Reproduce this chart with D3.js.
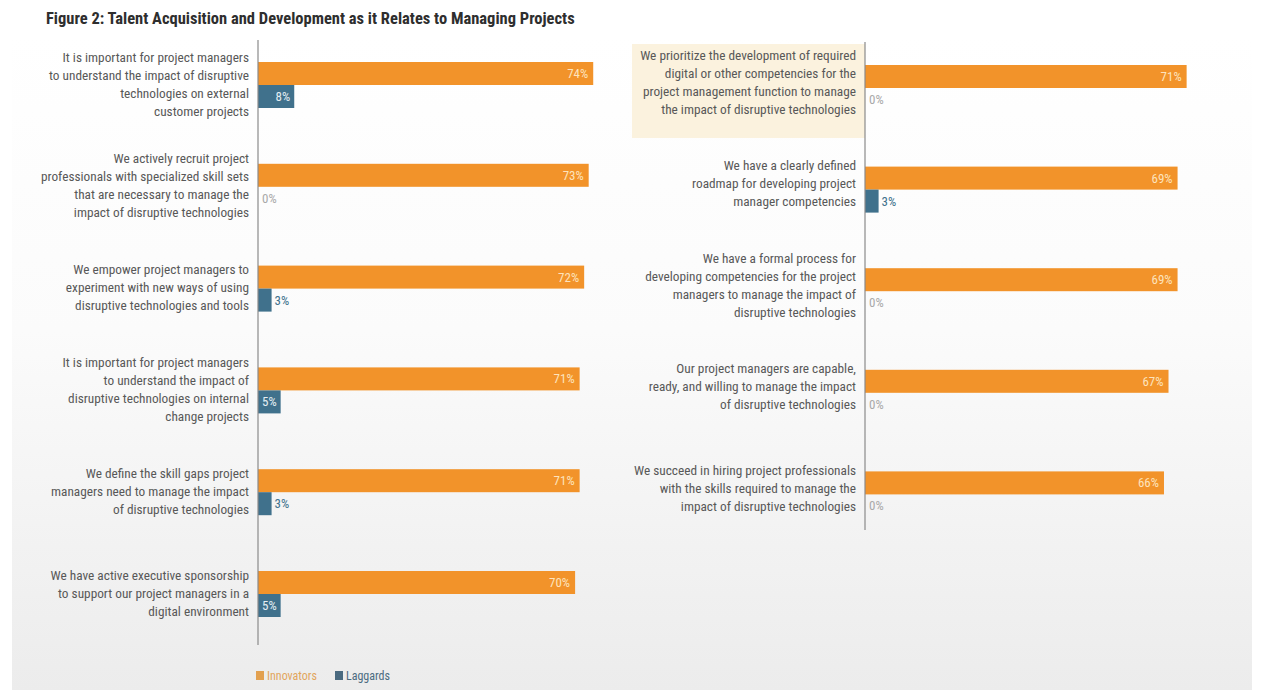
<!DOCTYPE html>
<html>
<head>
<meta charset="utf-8">
<script src="https://cdn.jsdelivr.net/npm/d3@7"></script>
<style>
  html, body { margin: 0; padding: 0; background: #ffffff; }
  svg { display: block; }
</style>
</head>
<body>
<svg id="chart" width="1264" height="690"></svg>
<script>
// ---- Data ----
const title = "Figure 2: Talent Acquisition and Development as it Relates to Managing Projects";
const seriesNames = ["Innovators", "Laggards"];

const leftCategories = [
  ["It is important for project managers", "to understand the impact of disruptive", "technologies on external", "customer projects"],
  ["We actively recruit project", "professionals with specialized skill sets", "that are necessary to manage the", "impact of disruptive technologies"],
  ["We empower project managers to", "experiment with new ways of using", "disruptive technologies and tools"],
  ["It is important for project managers", "to understand the impact of", "disruptive technologies on internal", "change projects"],
  ["We define the skill gaps project", "managers need to manage the impact", "of disruptive technologies"],
  ["We have active executive sponsorship", "to support our project managers in a", "digital environment"]
];
const leftInnovators = [74, 73, 72, 71, 71, 70];
const leftLaggards   = [8, 0, 3, 5, 3, 5];

const rightCategories = [
  ["We prioritize the development of required", "digital or other competencies for the", "project management function to manage", "the impact of disruptive technologies"],
  ["We have a clearly defined", "roadmap for developing project", "manager competencies"],
  ["We have a formal process for", "developing competencies for the project", "managers to manage the impact of", "disruptive technologies"],
  ["Our project managers are capable,", "ready, and willing to manage the impact", "of disruptive technologies"],
  ["We succeed in hiring project professionals", "with the skills required to manage the", "impact of disruptive technologies"]
];
const rightInnovators = [71, 69, 69, 67, 66];
const rightLaggards   = [0, 3, 0, 0, 0];
const highlightedRight = 0;

// ---- Style ----
const ORANGE = "#f2932a";
const BLUE = "#40718c";
const TEXT = "#585858";
const FONT = "'Liberation Sans Narrow', 'Roboto Condensed', 'DejaVu Sans Condensed', sans-serif";

const svg = d3.select("#chart");
const W = 1264, H = 690;

// soft backdrop that fades to grey towards the bottom
const defs = svg.append("defs");
const grad = defs.append("linearGradient").attr("id", "bg").attr("x1", 0).attr("y1", 0).attr("x2", 0).attr("y2", 1);
grad.append("stop").attr("offset", "0%").attr("stop-color", "#ffffff");
grad.append("stop").attr("offset", "45%").attr("stop-color", "#fbfbfb");
grad.append("stop").attr("offset", "100%").attr("stop-color", "#ececec");
svg.append("rect").attr("x", 0).attr("y", 0).attr("width", W).attr("height", H).attr("fill", "#ffffff");
svg.append("rect").attr("x", 12).attr("y", 36).attr("width", W - 24).attr("height", H - 36).attr("fill", "url(#bg)");

// title
svg.append("text")
  .attr("x", 46).attr("y", 24)
  .attr("font-family", FONT).attr("font-weight", "bold").attr("font-size", 16.5)
  .attr("fill", "#2e2e2e")
  .text(title);

function panel(cfg) {
  const { categories, innovators, laggards, axisX, yStart, step, highlight } = cfg;
  const idx = d3.range(categories.length);
  const y = d3.scaleBand().domain(idx).range([yStart, yStart + step * categories.length]).padding(0);
  const x = d3.scaleLinear().domain([0, 100]).range([axisX, axisX + 453]);
  const barH = 23, offO = 22, offL = 45;
  const g = svg.append("g");

  if (highlight != null) {
    g.append("rect")
      .attr("x", axisX - 233).attr("y", y(highlight) + 1)
      .attr("width", 233).attr("height", 94)
      .attr("fill", "#fbf2de");
  }

  // category labels, right aligned against the axis
  idx.forEach(i => {
    const lines = categories[i];
    const lh = 18;
    const center = y(i) + offO + barH - 1 + cfg.labelShift;
    const top = center - (lines.length - 1) * lh / 2;
    const t = g.append("text")
      .attr("text-anchor", "end")
      .attr("font-family", FONT).attr("font-size", 13.3)
      .attr("fill", TEXT);
    lines.forEach((ln, k) => {
      t.append("tspan").attr("x", axisX - 9).attr("y", top + k * lh).attr("dy", "0.35em").text(ln);
    });
  });

  // Innovators bars
  g.selectAll(".inv").data(idx).join("rect")
    .attr("x", x(0)).attr("y", i => y(i) + offO)
    .attr("width", i => x(innovators[i]) - x(0)).attr("height", barH)
    .attr("fill", ORANGE);
  g.selectAll(".invl").data(idx).join("text")
    .attr("x", i => x(innovators[i]) - 5).attr("y", i => y(i) + offO + barH / 2)
    .attr("dy", "0.35em").attr("text-anchor", "end")
    .attr("font-family", FONT).attr("font-size", 13)
    .attr("fill", "#fde3bd")
    .text(i => innovators[i] + "%");

  // Laggards bars
  g.selectAll(".lag").data(idx.filter(i => laggards[i] > 0)).join("rect")
    .attr("x", x(0)).attr("y", i => y(i) + offL)
    .attr("width", i => x(laggards[i]) - x(0)).attr("height", barH)
    .attr("fill", BLUE);
  g.selectAll(".lagl").data(idx).join("text")
    .attr("y", i => y(i) + offL + barH / 2)
    .attr("dy", "0.35em")
    .attr("font-family", FONT).attr("font-size", 13)
    .text(i => laggards[i] + "%")
    .each(function (i) {
      const el = d3.select(this);
      const w = this.getComputedTextLength();
      const bw = x(laggards[i]) - x(0);
      if (laggards[i] === 0) {
        el.attr("x", x(0) + 4).attr("fill", "#a9a9a9");
      } else if (w + 6 <= bw) {
        el.attr("x", x(laggards[i]) - 4).attr("text-anchor", "end").attr("fill", "#e4eef3");
      } else {
        el.attr("x", x(laggards[i]) + 3).attr("fill", BLUE);
      }
    });

  // axis line
  g.append("line")
    .attr("x1", axisX).attr("x2", axisX)
    .attr("y1", cfg.axisTop).attr("y2", cfg.axisBottom)
    .attr("stroke", "#8a8a8a").attr("stroke-width", 1.2);
}

panel({ categories: leftCategories, innovators: leftInnovators, laggards: leftLaggards,
        axisX: 258, yStart: 40, step: 101.8, axisTop: 40, axisBottom: 645, labelShift: 0 });
panel({ categories: rightCategories, innovators: rightInnovators, laggards: rightLaggards,
        axisX: 865, yStart: 43, step: 101.6, axisTop: 42, axisBottom: 530, labelShift: -5,
        highlight: highlightedRight });

// legend
const legend = svg.append("g");
const legendSwatch = ["#e2a04f", "#4a6a80"];
const legendText = ["#e2a55c", "#4b6b80"];
const legendX = [256, 335];
seriesNames.forEach((name, i) => {
  legend.append("rect").attr("x", legendX[i]).attr("y", 671).attr("width", 8).attr("height", 9)
    .attr("fill", legendSwatch[i]);
  legend.append("text").attr("x", legendX[i] + 11).attr("y", 676).attr("dy", "0.35em")
    .attr("font-family", FONT).attr("font-size", 12)
    .attr("fill", legendText[i]).text(name);
});
</script>
</body>
</html>
